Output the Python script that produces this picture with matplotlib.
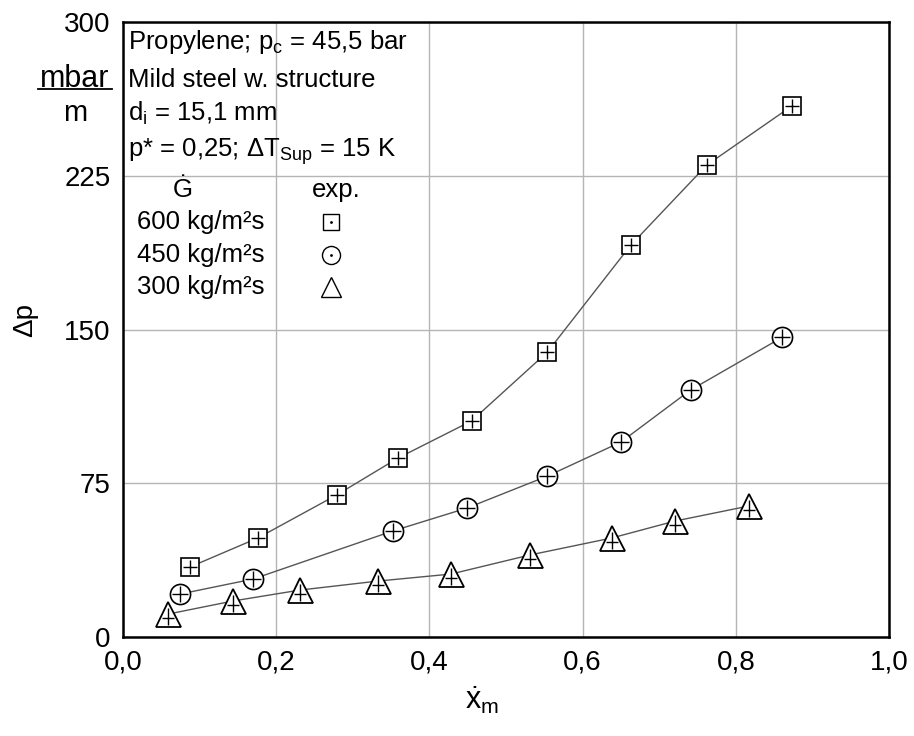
import matplotlib
matplotlib.use("Agg")
import matplotlib.pyplot as plt
from matplotlib.patches import Rectangle
from matplotlib.path import Path

plt.rcParams['font.family'] = ['Liberation Sans', 'DejaVu Sans']
plt.rcParams['mathtext.fontset'] = 'custom'
plt.rcParams['mathtext.rm'] = 'Liberation Sans'
plt.rcParams['mathtext.it'] = 'Liberation Sans:italic'

# data
x600 = [0.087, 0.176, 0.279, 0.359, 0.455, 0.554, 0.663, 0.762, 0.873]
dp600 = [34.1, 48.3, 69.3, 87.3, 105.4, 139.0, 191.2, 230.2, 259.0]
x450 = [0.075, 0.170, 0.352, 0.449, 0.554, 0.650, 0.741, 0.861]
dp450 = [21.0, 28.3, 51.7, 62.9, 78.5, 95.1, 120.5, 146.3]
x300 = [0.059, 0.144, 0.231, 0.333, 0.428, 0.531, 0.638, 0.721, 0.817]
dp300 = [11.2, 17.6, 22.9, 27.3, 30.7, 40.0, 48.3, 56.6, 63.9]

xticks = [0.0, 0.2, 0.4, 0.6, 0.8, 1.0]
xticklabels = ['0,0', '0,2', '0,4', '0,6', '0,8', '1,0']
yticks = [0, 75, 150, 225, 300]
yticklabels = ['0', '75', '150', '225', '300']

# cross that sits a bit low inside the triangle
lowplus = Path([(-0.45, -0.3), (0.45, -0.3), (0, -0.9), (0, 0.5)],
               [Path.MOVETO, Path.LINETO, Path.MOVETO, Path.LINETO])

fig = plt.figure(figsize=(9.14, 7.36), dpi=100)
ax = fig.add_axes([0.1346, 0.1345, 0.838, 0.8355])

lc = '#555555'
ax.plot(x600, dp600, '-', color=lc, lw=1, zorder=2)
ax.plot(x600, dp600, 's', ms=12.5, mfc='white', mec='black', mew=1.2, zorder=3)
ax.plot(x600, dp600, '+', ms=10, color='black', mew=1, zorder=4)

ax.plot(x450, dp450, '-', color=lc, lw=1, zorder=2)
ax.plot(x450, dp450, 'o', ms=14.5, mfc='white', mec='black', mew=1.2, zorder=3)
ax.plot(x450, dp450, '+', ms=11, color='black', mew=1, zorder=4)

ax.plot(x300, dp300, '-', color=lc, lw=1, zorder=2)
ax.plot(x300, dp300, '^', ms=18, mfc='white', mec='black', mew=1.3, zorder=3)
ax.plot(x300, dp300, marker=lowplus, ls='none', ms=16.2, mfc='none', mec='black', mew=1, zorder=4)

ax.set_xlim(0, 1.0)
ax.set_ylim(0, 300)
ax.set_xticks(xticks)
ax.set_xticklabels(xticklabels)
ax.set_yticks(yticks)
ax.set_yticklabels(yticklabels)
ax.tick_params(length=0, labelsize=20, pad=9)
ax.grid(True, color='#b5b5b5', lw=1)
for s in ax.spines.values():
    s.set_linewidth(1.8)

# white area behind the info text
ax.add_patch(Rectangle((0, 162), 0.378, 138, facecolor='white', edgecolor='none', zorder=1))

fs = 18.5
ax.text(0.007, 0.967, 'Propylene; p$_\\mathrm{c}$ = 45,5 bar', transform=ax.transAxes, fontsize=fs, va='center', zorder=5)
ax.text(0.007, 0.906, 'Mild steel w. structure', transform=ax.transAxes, fontsize=fs, va='center', zorder=5)
ax.text(0.007, 0.852, 'd$_\\mathrm{i}$ = 15,1 mm', transform=ax.transAxes, fontsize=fs, va='center', zorder=5)
ax.text(0.007, 0.789, 'p* = 0,25; ΔT$_\\mathrm{Sup}$ = 15 K', transform=ax.transAxes, fontsize=fs, va='center', zorder=5)
ax.text(0.078, 0.727, 'Ġ', transform=ax.transAxes, fontsize=fs, va='center', ha='center', zorder=5)
ax.text(0.279, 0.727, 'exp.', transform=ax.transAxes, fontsize=fs, va='center', ha='center', zorder=5)
ax.text(0.018, 0.675, '600 kg/m²s', transform=ax.transAxes, fontsize=fs, va='center', zorder=5)
ax.text(0.018, 0.621, '450 kg/m²s', transform=ax.transAxes, fontsize=fs, va='center', zorder=5)
ax.text(0.018, 0.569, '300 kg/m²s', transform=ax.transAxes, fontsize=fs, va='center', zorder=5)
ax.plot([0.271], [0.675], 's', ms=12, mfc='white', mec='black', mew=1, transform=ax.transAxes, zorder=5)
ax.plot([0.271], [0.675], '.', ms=2, color='black', transform=ax.transAxes, zorder=6)
ax.plot([0.271], [0.621], 'o', ms=13, mfc='white', mec='black', mew=1, transform=ax.transAxes, zorder=5)
ax.plot([0.271], [0.621], '.', ms=2, color='black', transform=ax.transAxes, zorder=6)
ax.plot([0.271], [0.569], '^', ms=15, mfc='white', mec='black', mew=1, transform=ax.transAxes, zorder=5)

# unit label and axis labels
fig.text(0.082, 0.892, 'mbar', fontsize=22, ha='center', va='center')
fig.add_artist(plt.Line2D([0.042, 0.122], [0.879, 0.879], color='black', lw=1.3))
fig.text(0.082, 0.846, 'm', fontsize=21, ha='center', va='center')
fig.text(0.028, 0.565, 'Δp', fontsize=20, ha='center', va='center', rotation=90)
fig.text(0.527, 0.049, '$\\dot{\\mathrm{x}}_\\mathrm{m}$', fontsize=22, ha='center', va='center')

fig.savefig('out.png', dpi=100)
